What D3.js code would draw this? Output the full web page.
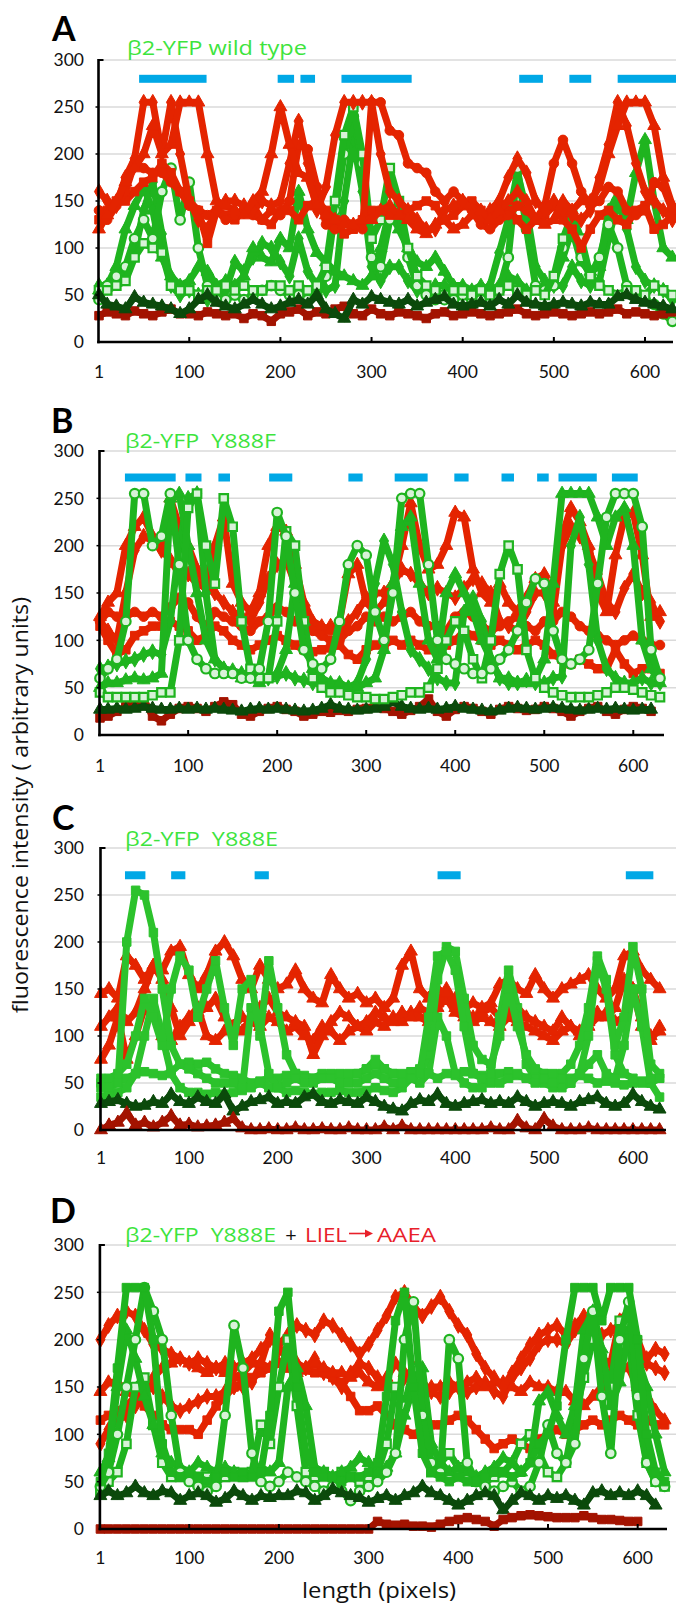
<!DOCTYPE html>
<html><head><meta charset="utf-8">
<script src="https://cdn.jsdelivr.net/npm/d3@7"></script>
<style>body{margin:0;background:#fff;} svg{display:block;font-family:'Open Sans',sans-serif;} text{white-space:pre;}</style>
</head><body><svg id="c" width="676" height="1604"></svg>
<script>
// sample positions along the line (pixels)
const xs = [1,10,20,30,40,50,60,70,80,90,100,110,120,130,140,150,160,170,180,190,200,210,220,230,240,250,260,270,280,290,300,310,320,330,340,350,360,370,380,390,400,410,420,430,440,450,460,470,480,490,500,510,520,530,540,550,560,570,580,590,600,610,620,630];
const xTickLabels = [1,100,200,300,400,500,600];
const yTickLabels = [0,50,100,150,200,250,300];
const titles = ["β2-YFP wild type", "β2-YFP  Y888F", "β2-YFP  Y888E", "β2-YFP  Y888E"];
const panelLetters = ["A","B","C","D"];

// ---- Panel A: wild type ----
const aRed1 = [120,135,150,170,185,200,230,200,210,255, 255,255,200,150,145,140,135,150,160,200, 250,210,180,175,145,135,130,125,125,130, 130,140,145,135,130,120,115,125,130,120, 125,135,140,130,140,150,160,150,130,125, 130,150,140,150,150,165,200,230,255,255, 255,230,175,145];
const aRed2 = [160,150,145,175,195,255,255,200,255,200, 150,130,120,140,150,150,145,140,150,145, 150,190,235,190,140,165,220,255,255,255, 255,200,160,150,140,130,120,120,140,145, 150,140,130,140,150,175,195,180,150,140, 150,140,135,130,140,175,210,255,230,190, 160,150,140,130];
const aRed3 = [140,130,145,160,190,185,180,180,170,160, 145,140,135,140,130,135,140,135,130,140, 135,150,210,205,165,125,120,130,125,120, 255,255,225,220,190,185,180,160,150,160, 150,140,125,120,130,135,145,140,130,145, 190,215,190,160,145,150,165,160,140,135, 140,170,165,140];
const aRed4 = [130,140,150,150,160,170,175,190,180,160, 150,140,105,140,135,130,140,145,130,125, 140,140,130,145,150,140,130,115,120,130, 140,140,135,135,140,145,150,145,130,135, 145,150,140,130,135,140,130,120,130,135, 145,130,120,100,120,135,140,130,125,140, 145,120,125,135];
const aGreen1 = [55,55,60,65,90,105,100,95,60,55, 55,50,55,55,60,55,60,55,55,60, 60,55,60,55,60,80,150,220,250,200, 110,130,185,150,100,70,60,55,50,55, 55,50,55,50,55,60,55,50,55,50, 70,110,135,110,70,60,55,50,55,55, 50,60,55,50];
const aGreen2 = [45,60,70,80,110,130,110,160,185,130, 170,100,60,45,45,50,45,50,55,60, 55,50,50,45,50,70,140,200,240,190, 90,80,130,140,90,60,50,45,45,45, 50,45,45,50,55,90,185,120,60,55, 60,100,130,90,70,90,125,100,60,50, 45,40,30,22];
const aGreen3 = [55,60,80,120,145,165,140,90,70,60, 65,80,75,60,65,60,70,100,90,85, 110,100,160,120,95,85,75,70,65,60, 70,100,140,120,100,85,80,90,75,60, 60,55,60,55,60,70,65,55,55,60, 65,90,120,85,75,80,140,155,130,180, 215,150,100,90];
const aGreen4 = [60,60,65,75,95,140,170,115,60,50, 55,50,45,50,55,85,75,90,105,100, 85,70,110,75,60,55,60,150,215,160, 80,65,80,80,65,55,55,60,60,55, 55,50,55,60,95,130,180,140,80,65, 60,60,80,65,60,65,110,150,120,80, 65,60,55,45];
const aDarkGreen = [50,40,38,35,48,42,40,38,35,30, 35,45,50,42,38,35,40,45,40,35, 38,42,45,40,50,35,30,25,45,40, 48,45,42,40,45,38,42,45,48,40, 38,40,42,38,45,40,50,42,40,38, 40,42,40,38,42,40,40,48,50,45, 42,40,38,35];
const aDarkRed = [28,32,30,28,33,30,28,32,35,30, 30,28,32,30,28,30,25,30,28,22, 30,32,35,28,32,30,35,38,30,28, 35,30,28,32,30,28,25,30,32,28, 30,32,30,28,30,32,35,30,28,30, 32,30,28,30,32,30,32,35,30,32, 30,28,30,32];
const aBars = [[45,119],[197,215],[222,238],[267,344],[462,488],[517,541],[570,634]];

// ---- Panel B: Y888F ----
const bRed1 = [125,140,150,200,220,230,210,200,250,220, 200,175,160,200,230,160,140,130,150,200, 220,215,180,140,120,115,110,120,170,180, 140,130,140,160,200,245,200,175,180,200, 235,230,175,150,140,160,140,130,145,165, 170,140,210,240,225,200,150,130,190,230, 235,190,125,130];
const bRed2 = [120,110,100,150,195,210,205,195,185,170, 170,160,155,150,140,130,125,120,140,165, 180,185,160,130,115,110,115,110,120,130, 145,150,150,160,175,170,160,150,155,150, 145,155,165,160,150,120,115,110,130,150, 150,130,200,220,210,195,170,140,130,155, 170,150,140,120];
const bRed3 = [120,130,125,125,130,125,130,125,135,145, 140,125,115,130,125,120,115,110,120,125, 135,130,120,115,110,105,100,100,110,115, 125,120,125,120,125,130,120,115,115,110, 125,130,125,115,110,115,120,125,115,110, 120,120,130,125,115,110,105,100,95,100, 105,100,95,95];
const bRed4 = [115,100,85,90,105,110,115,115,120,115, 110,100,105,115,110,100,95,90,95,100, 105,100,95,90,88,90,92,95,85,80, 90,95,95,100,95,100,95,90,90,95, 100,110,105,100,95,100,95,90,95,100, 95,85,80,75,80,75,70,70,90,75, 65,70,70,65];
const bGreen1 = [45,40,40,40,40,40,42,45,45,100, 240,255,200,160,250,220,120,70,60,60, 120,215,200,120,60,50,45,45,42,40, 40,38,38,40,42,45,45,50,70,100, 120,110,80,60,100,170,200,175,90,60, 50,45,42,40,40,40,42,45,50,50, 48,45,42,40];
const bGreen2 = [60,70,80,120,255,255,200,210,255,180, 100,80,70,65,65,65,60,60,70,120, 235,210,150,90,75,70,80,120,180,200, 190,130,100,150,250,255,255,180,100,80, 75,70,65,65,70,80,90,110,140,165, 160,110,80,75,80,90,160,230,255,255, 255,220,90,60];
const bGreen3 = [50,55,55,58,60,58,60,65,250,255, 200,150,100,80,70,65,60,60,55,60, 65,90,160,120,70,60,55,55,50,50, 55,60,90,160,220,230,160,100,80,150, 170,150,130,100,80,60,60,55,55,60, 80,160,255,255,255,255,230,200,230,240, 200,100,70,55];
const bGreen4 = [70,72,75,78,80,85,88,85,120,200, 250,255,150,80,70,68,65,65,60,60, 62,65,60,58,55,55,50,48,50,55, 80,160,205,180,130,90,80,70,60,55, 55,130,145,120,80,60,55,55,58,55, 55,60,62,200,230,180,100,70,60,55, 55,60,55,55];
const bDarkGreen = [27,27,28,27,28,30,28,27,27,28, 27,28,27,28,27,26,25,27,28,27, 28,27,26,25,26,28,32,28,27,26, 27,28,30,35,30,28,27,28,27,28, 30,28,27,26,25,26,28,29,28,27, 28,29,28,27,26,27,28,27,28,27, 26,27,27];
const bDarkRed = [18,20,25,30,35,38,20,15,22,28, 30,28,25,30,35,32,22,20,25,28, 30,27,25,20,22,25,24,26,25,27, 28,30,28,25,22,26,30,38,25,20, 27,30,28,25,22,27,30,28,26,27, 30,28,25,20,25,28,30,25,22,27, 30,28,25];
const bBars = [[29,86],[97,115],[134,147],[191,217],[280,296],[332,369],[399,415],[452,466],[492,505],[516,559],[576,605]];

// ---- Panel C: Y888E ----
const cRed1 = [145,150,140,185,175,160,175,170,190,195, 165,150,165,190,200,185,160,150,175,160, 150,155,170,150,140,135,165,150,140,145, 135,140,130,140,175,190,150,140,150,145, 140,130,135,130,135,155,160,150,145,165, 150,140,150,155,160,165,150,140,150,185, 190,170,160,150];
const cRed2 = [110,120,130,115,125,150,175,160,130,100, 115,125,130,140,120,110,105,120,130,140, 125,120,115,110,80,100,115,125,120,110, 115,125,120,115,125,120,130,125,135,150, 130,125,120,125,130,120,125,130,120,115, 110,105,120,110,105,115,125,120,130,160, 150,110,100,105];
const cRed3 = [75,90,120,75,100,130,120,100,95,110, 120,130,100,95,105,110,120,115,110,120, 115,105,110,100,95,110,105,95,105,110, 105,115,110,120,115,125,120,115,130,140, 125,120,115,120,115,110,120,115,110,105, 100,95,105,110,100,110,120,125,115,120, 150,120,95,110];
const cGreen1 = [45,45,50,200,255,250,210,150,90,70, 65,60,55,50,50,50,45,45,50,45, 45,50,55,50,50,55,55,50,50,50, 55,60,55,50,50,55,60,120,185,190, 170,110,60,55,50,50,55,60,55,50, 55,50,55,50,60,100,180,150,80,60, 55,50,55,55];
const cGreen2 = [50,55,60,70,100,140,120,90,150,185, 170,120,150,180,130,90,150,160,100,180, 130,80,60,55,55,55,60,60,60,60, 65,70,65,60,60,60,60,80,160,195, 190,140,90,75,70,100,150,110,80,65, 60,60,60,70,90,130,185,160,90,120, 195,150,70,60];
const cGreen3 = [35,38,40,45,60,100,140,100,60,45, 40,40,38,40,38,40,42,130,110,60, 45,40,42,40,38,40,40,42,40,40, 42,45,42,40,45,55,50,60,120,100, 60,50,45,45,60,120,170,130,70,55, 50,45,45,50,60,70,80,60,55,90, 150,110,50,35];
const cGreen4 = [55,50,52,55,60,62,60,58,62,70, 72,70,72,65,60,58,55,50,52,55, 55,58,60,58,55,60,58,55,58,60, 65,75,65,60,58,62,65,60,55,60, 58,62,60,58,55,60,62,58,55,58, 60,55,50,55,58,55,50,52,50,48, 50,52,50,55];
const cDarkGreen = [28,30,32,28,25,26,30,28,38,30, 28,35,30,28,38,20,25,30,32,35, 28,30,28,35,38,30,28,32,30,28, 35,30,25,22,20,28,32,30,38,28, 25,28,30,32,28,30,28,35,30,25, 28,30,28,25,30,32,35,28,25,28, 38,30,25,22];
const cDarkRed = [0,5,8,18,5,8,3,8,15,5, 6,3,4,5,8,12,2,0,0,1, 0,0,2,0,0,1,0,0,2,0, 0,0,3,0,4,0,0,0,0,0, 0,0,0,0,2,0,0,10,2,0, 12,4,0,0,0,2,0,0,0,0, 0,0,0,0];
const cBars = [[28,51],[80,96],[174,190],[380,406],[592,623]];

// ---- Panel D: Y888E + LIEL->AAEA ----
const dRed1 = [200,215,225,230,225,210,195,190,185,180, 175,180,175,170,175,170,175,180,190,200, 195,205,215,210,205,220,215,205,195,185, 195,210,225,245,250,235,225,235,245,230, 215,205,185,170,160,150,165,180,195,205, 210,215,205,215,225,215,205,210,215,200, 185,180,190,185];
const dRed2 = [145,155,155,145,140,150,160,170,175,180, 175,170,165,170,165,160,165,175,175,170, 175,170,165,170,175,170,165,165,160,165, 155,150,160,175,165,150,145,150,150,155, 150,155,160,150,155,155,150,145,155,150, 150,145,145,135,130,140,150,165,175,170, 150,140,125,115];
const dRed3 = [115,120,125,130,140,130,120,110,105,105, 105,100,115,130,140,150,155,160,165,170, 175,170,170,168,165,165,160,155,140,125, 125,130,120,110,105,100,105,110,110,115, 120,115,105,95,85,90,95,90,85,95, 100,105,100,105,110,115,110,115,120,115, 110,115,110,110];
const dRed4 = [90,105,115,120,130,145,150,140,130,125, 130,135,140,140,145,150,150,155,175,205, 190,180,175,170,180,165,160,150,165,175, 170,160,150,145,160,170,155,145,140,145, 150,145,150,155,145,140,160,170,180,195, 200,200,195,210,220,200,180,175,220,230, 200,175,170,165];
const dGreen1 = [50,80,170,255,255,255,200,90,60,55, 60,55,50,55,60,55,60,55,60,120, 230,250,150,80,60,55,55,50,55,55, 60,70,140,220,250,150,80,60,55,50, 55,50,50,55,60,60,55,60,70,90, 100,130,200,255,255,255,220,255,255,255, 200,100,60,50];
const dGreen2 = [45,60,100,150,200,255,230,200,120,60, 50,45,40,45,120,215,170,80,50,45, 50,60,55,50,45,40,45,40,30,40, 45,50,60,80,200,240,120,70,60,200, 180,70,50,45,40,45,50,40,45,70, 110,80,70,90,180,230,140,80,200,240, 140,70,50,45];
const dGreen3 = [60,75,150,210,180,140,110,80,70,65, 60,70,65,60,65,60,55,60,65,60, 70,150,170,130,65,60,55,60,65,75, 70,60,65,80,120,150,170,90,70,60, 65,60,55,60,65,75,70,60,70,135, 145,120,100,130,210,230,190,130,155,210, 180,150,100,60];
const dGreen4 = [40,50,60,90,150,160,110,70,55,55, 60,55,55,50,55,60,55,60,110,90, 150,200,130,60,55,60,55,60,55,50, 55,60,90,150,130,170,100,60,70,80, 65,55,50,50,55,60,70,90,100,80, 60,55,70,120,160,200,180,150,220,200, 120,70,50,45];
const dDarkGreen = [35,40,35,38,45,38,35,40,38,30, 35,38,35,28,32,40,35,30,35,33, 35,35,40,38,30,35,42,38,35,33, 28,32,35,30,35,38,45,38,35,30, 25,30,35,38,35,20,30,38,35,30, 35,32,35,30,25,38,40,35,38,35, 40,35,25];
const dDarkRed = [0,0,0,0,0,0,0,0,0,0, 0,0,0,0,0,0,0,0,0,0, 0,0,0,0,0,0,0,0,0,0, 0,8,5,4,5,3,3,2,5,8, 10,12,10,8,3,10,12,14,15,14, 13,12,12,12,14,12,10,10,9,8, 8];
const barLevels = [280, 272, 271];

// ---- styling / layout ----
const RED = "#e42400", GREEN = "#1fb41f", GREEN_C = "#2cc22c", DKGREEN = "#0b4a0b", DKRED = "#a31300", BLUE = "#00a8e6";
const TITLE_GREEN = "#3de43d", TITLE_RED = "#e8202a";
const TICK_FONT = "Lato, 'Open Sans', sans-serif";
const svg = d3.select("#c");

const layout = [
  {top:60, bottom:342, x0:99, x1:676, dmax:634, axisEnd:673, lx:52, ly:41, tx:127, ty:55, tlen:180, tickY:378},
  {top:451, bottom:735, x0:100, x1:668, dmax:639, axisEnd:664, lx:51, ly:433, tx:125, ty:448, tlen:151, tickY:772},
  {top:848, bottom:1130, x0:101, x1:668, dmax:639.5, axisEnd:666, lx:52, ly:830, tx:125, ty:846, tlen:153, tickY:1164},
  {top:1245, bottom:1529, x0:100.4, x1:668, dmax:633.8, axisEnd:667, lx:50, ly:1223, tx:125, ty:1242, tlen:151, tickY:1564}
];

const symD = d3.symbolDiamond, symS = d3.symbolSquare, symT = d3.symbolTriangle, symC = d3.symbolCircle;

const panelSeries = [
  { bars:aBars, layers:[
    [aGreen4,GREEN,symD,false],[aGreen3,GREEN,symT,false],[aGreen2,GREEN,symC,true],[aGreen1,GREEN,symS,true],
    [aRed4,RED,symS,false],[aRed3,RED,symC,false],[aRed2,RED,symD,false],[aRed1,RED,symT,false],
    [aDarkRed,DKRED,symS,false],[aDarkGreen,DKGREEN,symT,false]]},
  { bars:bBars, layers:[
    [bRed4,RED,symS,false],[bRed3,RED,symC,false],[bRed2,RED,symD,false],[bRed1,RED,symT,false],
    [bDarkRed,DKRED,symS,false],[bDarkGreen,DKGREEN,symT,false],
    [bGreen4,GREEN,symD,false],[bGreen3,GREEN,symT,false],[bGreen1,GREEN,symS,true],[bGreen2,GREEN,symC,true]]},
  { bars:cBars, layers:[
    [cRed3,RED,symT,false],[cRed2,RED,symT,false],[cRed1,RED,symT,false],
    [cGreen4,GREEN_C,symS,false],[cGreen3,GREEN_C,symS,false],[cGreen2,GREEN_C,symS,false],[cGreen1,GREEN_C,symS,false],
    [cDarkGreen,DKGREEN,symT,false],[cDarkRed,DKRED,symT,false]]},
  { bars:[], layers:[
    [dRed4,RED,symD,false],[dRed3,RED,symS,false],[dRed2,RED,symT,false],[dRed1,RED,symD,false],
    [dGreen4,GREEN,symS,true],[dGreen3,GREEN,symT,false],[dGreen2,GREEN,symC,true],[dGreen1,GREEN,symS,false],
    [dDarkGreen,DKGREEN,symT,false],[dDarkRed,DKRED,symS,false]]}
];

function drawSeries(g, x, y, vals, color, sym, open) {
  const pts = vals.map((v,i)=>[xs[i], v]);
  g.append("path").datum(pts)
    .attr("d", d3.line().x(d=>x(d[0])).y(d=>y(d[1])))
    .attr("fill","none").attr("stroke",color).attr("stroke-width",7)
    .attr("stroke-linejoin","round").attr("stroke-linecap","round");
  g.selectAll(null).data(pts).join("path")
    .attr("transform", d=>`translate(${x(d[0])},${y(d[1])})`)
    .attr("d", d3.symbol(sym, 72))
    .attr("fill", open ? "#d8f2d8" : color)
    .attr("stroke", color).attr("stroke-width", open ? 2.2 : 1);
}

layout.forEach((L, p) => {
  const g = svg.append("g");
  const x = d3.scaleLinear().domain([1, L.dmax]).range([L.x0, L.x1]);
  const y = d3.scaleLinear().domain([0, 300]).range([L.bottom, L.top]);
  const ax = L.x0 - 0.5;

  // gridlines
  g.selectAll(null).data(yTickLabels.filter(v=>v>0)).join("line")
    .attr("x1", ax).attr("x2", 676).attr("y1", d=>y(d)).attr("y2", d=>y(d))
    .attr("stroke", "#dadada").attr("stroke-width", 1.5);

  // y tick labels
  g.selectAll(null).data(yTickLabels).join("text")
    .attr("x", 84).attr("y", d=>y(d)).attr("dy", "0.36em")
    .attr("text-anchor","end").attr("font-family", TICK_FONT).attr("font-size", 17.5).attr("fill","#111").text(d=>d);

  // blue bars
  if (p < 3) {
    const bl = barLevels[p];
    g.selectAll(null).data(panelSeries[p].bars).join("rect")
      .attr("x", d=>x(d[0])).attr("width", d=>x(d[1]) - x(d[0]))
      .attr("y", y(bl) - 4).attr("height", 8).attr("fill", BLUE);
  }

  // series
  panelSeries[p].layers.forEach(s => drawSeries(g, x, y, s[0], s[1], s[2], s[3]));

  // axes
  g.append("line").attr("x1", ax).attr("x2", ax).attr("y1", y(300)-1).attr("y2", L.bottom+1.2)
    .attr("stroke","#000").attr("stroke-width", 2.6);
  g.append("line").attr("x1", ax).attr("x2", ax+5).attr("y1", y(300)).attr("y2", y(300))
    .attr("stroke","#000").attr("stroke-width", 2);
  g.selectAll(null).data(yTickLabels.slice(1,6)).join("line")
    .attr("x1", ax-3).attr("x2", ax).attr("y1", d=>y(d)).attr("y2", d=>y(d))
    .attr("stroke","#000").attr("stroke-width", 1.5);
  g.append("line").attr("x1", ax-1.3).attr("x2", L.axisEnd).attr("y1", L.bottom).attr("y2", L.bottom)
    .attr("stroke","#000").attr("stroke-width", 2.6);
  g.selectAll(null).data(xTickLabels.slice(1)).join("line")
    .attr("x1", d=>x(d)).attr("x2", d=>x(d)).attr("y1", L.bottom).attr("y2", L.bottom-5)
    .attr("stroke","#000").attr("stroke-width", 2);

  // x tick labels
  g.selectAll(null).data(xTickLabels).join("text")
    .attr("x", d=>x(d)).attr("y", L.tickY).attr("text-anchor","middle")
    .attr("font-family", TICK_FONT).attr("font-size", 17.5).attr("fill","#111").text(d=>d);

  // panel letter
  g.append("text").attr("x", L.lx).attr("y", L.ly).attr("font-family", TICK_FONT)
    .attr("font-size", 34).attr("font-weight", 700).attr("fill","#000").text(panelLetters[p]);

  // title
  g.append("text").attr("x", L.tx).attr("y", L.ty).attr("font-size", 19.5).attr("fill", TITLE_GREEN)
    .attr("textLength", L.tlen).attr("lengthAdjust","spacingAndGlyphs").text(titles[p]);

  if (p === 3) {
    g.append("text").attr("x", 291).attr("y", L.ty).attr("text-anchor","middle").attr("font-size", 20)
      .attr("fill","#111").text("+");
    g.append("text").attr("x", 305).attr("y", L.ty).attr("font-size", 19.5).attr("fill", TITLE_RED)
      .attr("textLength", 42).attr("lengthAdjust","spacingAndGlyphs").text("LIEL");
    g.append("line").attr("x1", 349).attr("x2", 367).attr("y1", L.ty-8.5).attr("y2", L.ty-8.5)
      .attr("stroke", TITLE_RED).attr("stroke-width", 1.6);
    g.append("path").attr("d", `M373,${L.ty-8.5} L365,${L.ty-12.5} L365,${L.ty-4.5} Z`).attr("fill", TITLE_RED);
    g.append("text").attr("x", 377).attr("y", L.ty).attr("font-size", 19.5).attr("fill", TITLE_RED)
      .attr("textLength", 59).attr("lengthAdjust","spacingAndGlyphs").text("AAEA");
  }
});

// axis titles
svg.append("text").attr("transform","translate(28,805) rotate(-90)").attr("text-anchor","middle")
  .attr("font-size", 21).attr("fill","#111").attr("textLength", 416).attr("lengthAdjust","spacingAndGlyphs")
  .text("fluorescence intensity ( arbitrary units)");
svg.append("text").attr("x", 379).attr("y", 1598).attr("text-anchor","middle")
  .attr("font-size", 21).attr("fill","#111").attr("textLength", 154).attr("lengthAdjust","spacingAndGlyphs")
  .text("length (pixels)");
</script></body></html>
